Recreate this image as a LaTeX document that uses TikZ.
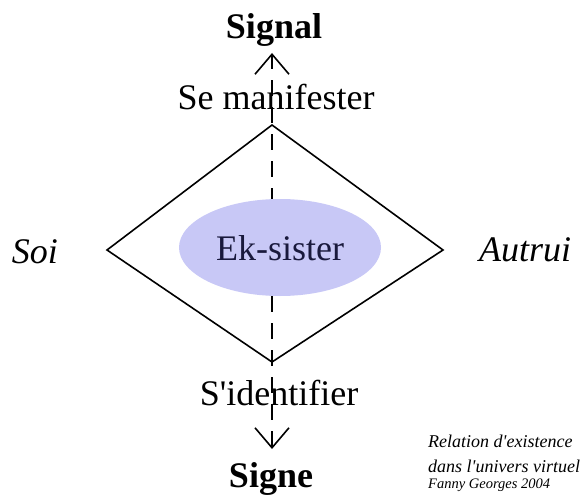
\documentclass[tikz,border=0pt]{standalone}
\usepackage{fontspec}
\setmainfont{Liberation Serif}
\usetikzlibrary{arrows.meta,shapes.geometric}
\definecolor{lavande}{RGB}{200,200,246}
\definecolor{encre}{RGB}{25,25,60}
\tikzset{
  big/.style={inner sep=0pt,anchor=base,font=\fontsize{36}{40}\selectfont},
  small/.style={inner sep=0pt,anchor=base west,font=\itshape\fontsize{18}{22}\selectfont},
  trait/.style={line width=1.6pt},
  barb/.tip={Straight Barb[length=20pt,width=34pt,line width=1.6pt]},
}
\begin{document}
\begin{tikzpicture}[x=1pt,y=-1pt]
        \useasboundingbox (0,0) rectangle (583,495);

        \coordinate (tp) at (272,125);
        \coordinate (lf) at (107,250);
        \coordinate (rt) at (443,250);
        \coordinate (bt) at (272,362);
        \coordinate (up) at (272,53);
        \coordinate (dn) at (272,449);

        \draw[trait,line join=miter] (tp) -- (rt) -- (bt) -- (lf) -- cycle;
        \draw[trait,dash pattern=on 16pt off 11pt,barb-barb] (dn) -- (up);

        \node[ellipse,fill=lavande,minimum width=202pt,minimum height=97pt,inner sep=0pt] (ek) at (280,247.5) {};
        \node[big,text=encre] at (280,260) {Ek-sister};

        \node[big,font=\bfseries\fontsize{36}{40}\selectfont] (signal) at (274,39) {Signal};
        \node[big] (manif) at (276,109) {Se manifester};
        \node[big] (ident) at (279,405) {S\textquotesingle identifier};
        \node[big,font=\bfseries\fontsize{36}{40}\selectfont] (signe) at (271,487) {Signe};
        \node[big,font=\itshape\fontsize{36}{40}\selectfont] (soi) at (35,263) {Soi};
        \node[big,font=\itshape\fontsize{36}{40}\selectfont] (autrui) at (525,261) {Autrui};

        \node[small] (rel) at (428,447) {Relation d\textquotesingle existence};
        \node[small] (univ) at (428,472) {dans l\textquotesingle univers virtuel};
        \node[small,font=\itshape\fontsize{14.5}{16}\selectfont] (auteur) at (428,488) {Fanny Georges 2004};

        \end{tikzpicture}
\end{document}
